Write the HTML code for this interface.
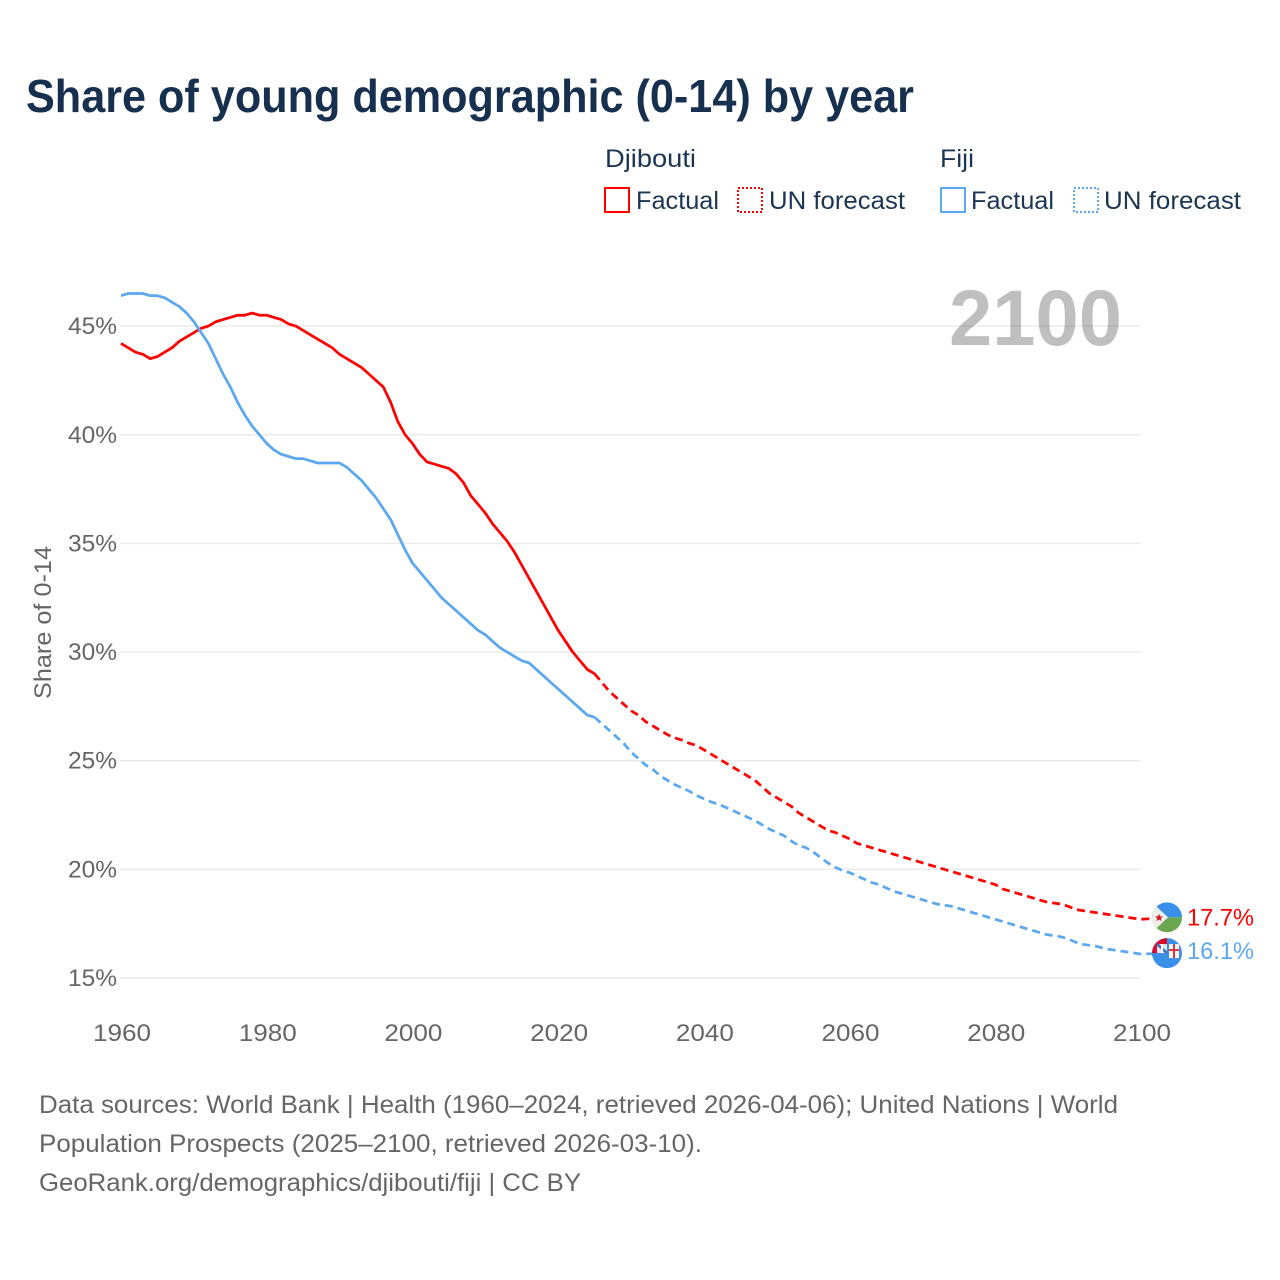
<!DOCTYPE html>
<html lang="en">
<head>
<meta charset="utf-8">
<title>Share of young demographic (0-14) by year</title>
<style>
html,body{margin:0;padding:0;background:#fff;}
svg{display:block;font-family:"Liberation Sans",sans-serif;}
</style>
</head>
<body>
<svg id="chart" xmlns="http://www.w3.org/2000/svg" width="1280" height="1280" viewBox="0 0 1280 1280">
<defs>
<clipPath id="clip-dj"><circle cx="0" cy="0" r="15"/></clipPath>
<clipPath id="clip-fj"><circle cx="0" cy="0" r="15"/></clipPath>
</defs>
<rect x="0" y="0" width="1280" height="1280" fill="#fff"/>
<text x="26" y="112" font-size="46" font-weight="700" fill="#18304f" textLength="888" lengthAdjust="spacingAndGlyphs">Share of young demographic (0-14) by year</text>

<g font-size="25" fill="#1b3553">
<text x="605" y="167" textLength="91" lengthAdjust="spacingAndGlyphs">Djibouti</text>
<rect x="605" y="188" width="24" height="24" fill="none" stroke="#ff0000" stroke-width="2"/>
<text x="636" y="209" textLength="83" lengthAdjust="spacingAndGlyphs">Factual</text>
<rect x="738" y="188" width="24" height="24" fill="none" stroke="#ff0000" stroke-width="2" stroke-dasharray="2 2"/>
<text x="769" y="209" textLength="136" lengthAdjust="spacingAndGlyphs">UN forecast</text>
<text x="940" y="167" textLength="34" lengthAdjust="spacingAndGlyphs">Fiji</text>
<rect x="941" y="188" width="24" height="24" fill="none" stroke="#5ba8f0" stroke-width="2"/>
<text x="971" y="209" textLength="83" lengthAdjust="spacingAndGlyphs">Factual</text>
<rect x="1074" y="188" width="24" height="24" fill="none" stroke="#5ba8f0" stroke-width="2" stroke-dasharray="2 2"/>
<text x="1104" y="209" textLength="137" lengthAdjust="spacingAndGlyphs">UN forecast</text>
</g>

<g id="grid"></g>
<text x="1122" y="345" text-anchor="end" font-size="79" font-weight="700" fill="#000" fill-opacity="0.25" textLength="173" lengthAdjust="spacingAndGlyphs">2100</text>
<g id="y-ticks" font-size="24" fill="#666"></g>
<g id="x-ticks" font-size="24" fill="#666"></g>
<text transform="translate(51,699) rotate(-90)" font-size="24" fill="#666" textLength="153" lengthAdjust="spacingAndGlyphs">Share of 0-14</text>
<g id="series"></g>

<g id="flag-fj" clip-path="url(#clip-fj)">
<rect x="-15" y="-15" width="30" height="30" fill="#3a8fe8"/>
<rect x="-15" y="-15" width="15" height="15" fill="#d80a2e"/>
<rect x="-10" y="-9" width="10" height="9" fill="#dfe6f2"/>
<path d="M-10 -9L0 0" stroke="#3f6fb5" stroke-width="2.500" fill="none"/>
<path d="M-5 -9L-5 0" stroke="#ffffff" stroke-width="2" fill="none"/>
<rect x="2" y="-9" width="10" height="14" fill="#fff"/>
<rect x="6" y="-9" width="2" height="14" fill="#e0313a"/>
<rect x="2" y="-4" width="10" height="2" fill="#e0313a"/>
</g>
<g id="flag-dj" clip-path="url(#clip-dj)">
<rect x="-15" y="-15" width="30" height="15" fill="#3a8fe8"/>
<rect x="-15" y="0" width="30" height="15" fill="#6aa84f"/>
<path d="M-15 -15L1 0L-15 15Z" fill="#eeeeee"/>
<path d="M-8 -3.500L-6.800 -0.800L-4 -0.800L-6.200 1L-5.400 3.800L-8 2.200L-10.600 3.800L-9.800 1L-12 -0.800L-9.200 -0.800Z" fill="#d7141a"/>
</g>
<text id="label-dj" x="1187" font-size="24" fill="#ff0000" textLength="67" lengthAdjust="spacingAndGlyphs"></text>
<text id="label-fj" x="1187" font-size="24" fill="#5ba8f0" textLength="67" lengthAdjust="spacingAndGlyphs"></text>

<g font-size="25" fill="#666">
<text x="39" y="1113" textLength="1079" lengthAdjust="spacingAndGlyphs">Data sources: World Bank | Health (1960–2024, retrieved 2026-04-06); United Nations | World</text>
<text x="39" y="1152" textLength="663" lengthAdjust="spacingAndGlyphs">Population Prospects (2025–2100, retrieved 2026-03-10).</text>
<text x="39" y="1191" textLength="542" lengthAdjust="spacingAndGlyphs">GeoRank.org/demographics/djibouti/fiji | CC BY</text>
</g>
</svg>
<script>
const factualStart = 1960;
const forecastStart = 2025;
const yTickValues = [15, 20, 25, 30, 35, 40, 45];
const xTickValues = [1960, 1980, 2000, 2020, 2040, 2060, 2080, 2100];
const djiboutiFactual = [44.2,44.0,43.8,43.7,43.5,43.6,43.8,44.0,44.3,44.5,44.7,44.9,45.0,45.2,45.3,45.4,45.5,45.5,45.6,45.5,45.5,45.4,45.3,45.1,45.0,44.8,44.6,44.4,44.2,44.0,43.7,43.5,43.3,43.1,42.8,42.5,42.2,41.5,40.6,40.0,39.6,39.1,38.75,38.65,38.55,38.45,38.2,37.8,37.2,36.8,36.4,35.9,35.5,35.1,34.6,34.0,33.4,32.8,32.2,31.6,31.0,30.5,30.0,29.6,29.2,29.0];
const djiboutiForecast = [29.0,28.6,28.2,27.9,27.6,27.3,27.1,26.8,26.6,26.4,26.2,26.05,25.95,25.8,25.7,25.5,25.3,25.1,24.9,24.7,24.5,24.3,24.1,23.8,23.5,23.3,23.1,22.9,22.6,22.4,22.2,22.0,21.8,21.7,21.55,21.4,21.2,21.1,21.0,20.9,20.8,20.7,20.6,20.5,20.4,20.3,20.2,20.1,20.0,19.9,19.8,19.7,19.6,19.5,19.4,19.3,19.1,19.0,18.9,18.8,18.7,18.6,18.5,18.45,18.4,18.3,18.15,18.1,18.05,18.0,17.95,17.9,17.85,17.8,17.75,17.7];
const fijiFactual = [46.4,46.5,46.5,46.5,46.4,46.4,46.3,46.1,45.9,45.6,45.2,44.7,44.2,43.5,42.8,42.2,41.5,40.9,40.4,40.0,39.6,39.3,39.1,39.0,38.9,38.9,38.8,38.7,38.7,38.7,38.7,38.5,38.2,37.9,37.5,37.1,36.6,36.1,35.4,34.7,34.1,33.7,33.3,32.9,32.5,32.2,31.9,31.6,31.3,31.0,30.8,30.5,30.2,30.0,29.8,29.6,29.5,29.2,28.9,28.6,28.3,28.0,27.7,27.4,27.1,27.0];
const fijiForecast = [27.0,26.7,26.4,26.1,25.8,25.4,25.1,24.8,24.6,24.3,24.1,23.9,23.75,23.6,23.4,23.25,23.1,23.0,22.85,22.7,22.55,22.4,22.25,22.05,21.85,21.7,21.55,21.3,21.1,21.0,20.8,20.55,20.3,20.1,19.95,19.85,19.7,19.55,19.4,19.3,19.15,19.0,18.9,18.8,18.7,18.6,18.5,18.4,18.35,18.3,18.2,18.1,18.0,17.9,17.8,17.7,17.6,17.5,17.4,17.3,17.2,17.1,17.0,16.95,16.9,16.8,16.65,16.55,16.5,16.45,16.35,16.3,16.25,16.2,16.15,16.1];

const NS = 'http://www.w3.org/2000/svg';
const RED = '#ff0000';
const BLUE = '#5ba8f0';
function xScale(year) { return 121 + (year - 1960) * (1020 / 140); }
function yScale(v) { return 978 - (v - 15) * 21.73; }
function make(tag, parent) {
  const el = document.createElementNS(NS, tag);
  parent.appendChild(el);
  return el;
}
function linePath(values, startYear) {
  return values.map(function (v, i) {
    return (i ? 'L' : 'M') + xScale(startYear + i).toFixed(2) + ' ' + yScale(v).toFixed(2);
  }).join('');
}
function styleLine(el, color, dashed) {
  el.setAttribute('fill', 'none');
  el.setAttribute('stroke', color);
  el.setAttribute('stroke-width', '2.75');
  el.setAttribute('stroke-linejoin', 'round');
  if (dashed) el.setAttribute('stroke-dasharray', '8 5');
}

const grid = document.getElementById('grid');
const yTicks = document.getElementById('y-ticks');
yTickValues.forEach(function (v) {
  const gl = make('line', grid);
  
  
  gl.setAttribute('x1', 120);
  gl.setAttribute('x2', 1141);
  gl.setAttribute('y1', yScale(v));
  gl.setAttribute('y2', yScale(v));
  gl.setAttribute('stroke', '#ebebeb');
  gl.setAttribute('stroke-width', '1.5');
  const t = make('text', yTicks);
  
  
  t.setAttribute('x', 68);
  t.setAttribute('y', yScale(v) + 8);
  t.setAttribute('textLength', 49);
  t.setAttribute('lengthAdjust', 'spacingAndGlyphs');
  t.textContent = v + '%';
});
const xTicks = document.getElementById('x-ticks');
xTickValues.forEach(function (year) {
  const t = make('text', xTicks);
  
  
  t.setAttribute('x', xScale(year) - 28);
  t.setAttribute('y', 1041);
  t.setAttribute('textLength', 58);
  t.setAttribute('lengthAdjust', 'spacingAndGlyphs');
  t.textContent = String(year);
});

const series = document.getElementById('series');

const lineDjF = make('path', series);


lineDjF.setAttribute('d', linePath(djiboutiFactual, factualStart));
styleLine(lineDjF, RED, false);

const lineDjU = make('path', series);


lineDjU.setAttribute('d', linePath(djiboutiForecast, forecastStart) + 'L1167 ' + (yScale(djiboutiForecast[djiboutiForecast.length - 1]) - 2));
styleLine(lineDjU, RED, true);

const lineFjF = make('path', series);


lineFjF.setAttribute('d', linePath(fijiFactual, factualStart));
styleLine(lineFjF, BLUE, false);

const lineFjU = make('path', series);


lineFjU.setAttribute('d', linePath(fijiForecast, forecastStart) + 'L1167 ' + (yScale(fijiForecast[fijiForecast.length - 1]) - 1));
styleLine(lineFjU, BLUE, true);

const lastDj = djiboutiForecast[djiboutiForecast.length - 1];
const lastFj = fijiForecast[fijiForecast.length - 1];
document.getElementById('flag-dj').setAttribute('transform', 'translate(1167,' + (yScale(lastDj) - 2) + ')');
document.getElementById('flag-fj').setAttribute('transform', 'translate(1167,' + (yScale(lastFj) - 1) + ')');
const labelDj = document.getElementById('label-dj');
labelDj.setAttribute('y', yScale(lastDj) + 6);
labelDj.textContent = lastDj.toFixed(1) + '%';
const labelFj = document.getElementById('label-fj');
labelFj.setAttribute('y', yScale(lastFj) + 5);
labelFj.textContent = lastFj.toFixed(1) + '%';
</script>
</body>
</html>
